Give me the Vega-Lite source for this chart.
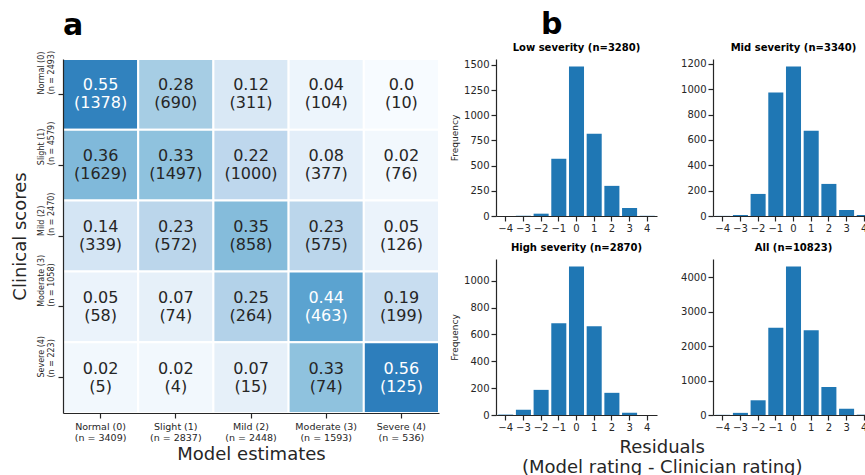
{
  "$schema": "https://vega.github.io/schema/vega-lite/v6.json",
  "background": "white",
  "padding": {"left": 10, "top": 9, "right": 0, "bottom": 0},
  "spacing": 10,
  "config": {
    "font": "DejaVu Sans",
    "view": {"stroke": null},
    "axis": {
      "grid": false,
      "domainColor": "#262626",
      "tickColor": "#262626",
      "labelColor": "#262626",
      "titleColor": "#262626",
      "labelFont": "DejaVu Sans",
      "titleFont": "DejaVu Sans",
      "titleFontWeight": "normal",
      "domainWidth": 1.2,
      "tickWidth": 1.2,
      "tickSize": 5
    },
    "title": {"font": "DejaVu Sans", "color": "black"}
  },
  "datasets": {
    "cm": [
      {"clinical": "Normal (0)", "model": "Normal (0)", "p": 0.55, "v": "0.55", "c": "(1378)"},
      {"clinical": "Normal (0)", "model": "Slight (1)", "p": 0.28, "v": "0.28", "c": "(690)"},
      {"clinical": "Normal (0)", "model": "Mild (2)", "p": 0.12, "v": "0.12", "c": "(311)"},
      {"clinical": "Normal (0)", "model": "Moderate (3)", "p": 0.04, "v": "0.04", "c": "(104)"},
      {"clinical": "Normal (0)", "model": "Severe (4)", "p": 0.0, "v": "0.0", "c": "(10)"},
      {"clinical": "Slight (1)", "model": "Normal (0)", "p": 0.36, "v": "0.36", "c": "(1629)"},
      {"clinical": "Slight (1)", "model": "Slight (1)", "p": 0.33, "v": "0.33", "c": "(1497)"},
      {"clinical": "Slight (1)", "model": "Mild (2)", "p": 0.22, "v": "0.22", "c": "(1000)"},
      {"clinical": "Slight (1)", "model": "Moderate (3)", "p": 0.08, "v": "0.08", "c": "(377)"},
      {"clinical": "Slight (1)", "model": "Severe (4)", "p": 0.02, "v": "0.02", "c": "(76)"},
      {"clinical": "Mild (2)", "model": "Normal (0)", "p": 0.14, "v": "0.14", "c": "(339)"},
      {"clinical": "Mild (2)", "model": "Slight (1)", "p": 0.23, "v": "0.23", "c": "(572)"},
      {"clinical": "Mild (2)", "model": "Mild (2)", "p": 0.35, "v": "0.35", "c": "(858)"},
      {"clinical": "Mild (2)", "model": "Moderate (3)", "p": 0.23, "v": "0.23", "c": "(575)"},
      {"clinical": "Mild (2)", "model": "Severe (4)", "p": 0.05, "v": "0.05", "c": "(126)"},
      {"clinical": "Moderate (3)", "model": "Normal (0)", "p": 0.05, "v": "0.05", "c": "(58)"},
      {"clinical": "Moderate (3)", "model": "Slight (1)", "p": 0.07, "v": "0.07", "c": "(74)"},
      {"clinical": "Moderate (3)", "model": "Mild (2)", "p": 0.25, "v": "0.25", "c": "(264)"},
      {"clinical": "Moderate (3)", "model": "Moderate (3)", "p": 0.44, "v": "0.44", "c": "(463)"},
      {"clinical": "Moderate (3)", "model": "Severe (4)", "p": 0.19, "v": "0.19", "c": "(199)"},
      {"clinical": "Severe (4)", "model": "Normal (0)", "p": 0.02, "v": "0.02", "c": "(5)"},
      {"clinical": "Severe (4)", "model": "Slight (1)", "p": 0.02, "v": "0.02", "c": "(4)"},
      {"clinical": "Severe (4)", "model": "Mild (2)", "p": 0.07, "v": "0.07", "c": "(15)"},
      {"clinical": "Severe (4)", "model": "Moderate (3)", "p": 0.33, "v": "0.33", "c": "(74)"},
      {"clinical": "Severe (4)", "model": "Severe (4)", "p": 0.56, "v": "0.56", "c": "(125)"}
    ],
    "hist": [
      {"g": "low", "r": -4, "n": 0}, {"g": "low", "r": -3, "n": 2}, {"g": "low", "r": -2, "n": 23}, {"g": "low", "r": -1, "n": 568}, {"g": "low", "r": 0, "n": 1484}, {"g": "low", "r": 1, "n": 817}, {"g": "low", "r": 2, "n": 299}, {"g": "low", "r": 3, "n": 80}, {"g": "low", "r": 4, "n": 2},
      {"g": "mid", "r": -4, "n": 1}, {"g": "mid", "r": -3, "n": 8}, {"g": "mid", "r": -2, "n": 174}, {"g": "mid", "r": -1, "n": 974}, {"g": "mid", "r": 0, "n": 1179}, {"g": "mid", "r": 1, "n": 673}, {"g": "mid", "r": 2, "n": 253}, {"g": "mid", "r": 3, "n": 47}, {"g": "mid", "r": 4, "n": 8},
      {"g": "high", "r": -4, "n": 3}, {"g": "high", "r": -3, "n": 39}, {"g": "high", "r": -2, "n": 187}, {"g": "high", "r": -1, "n": 682}, {"g": "high", "r": 0, "n": 1106}, {"g": "high", "r": 1, "n": 660}, {"g": "high", "r": 2, "n": 165}, {"g": "high", "r": 3, "n": 17}, {"g": "high", "r": 4, "n": 0},
      {"g": "all", "r": -4, "n": 5}, {"g": "all", "r": -3, "n": 62}, {"g": "all", "r": -2, "n": 428}, {"g": "all", "r": -1, "n": 2539}, {"g": "all", "r": 0, "n": 4321}, {"g": "all", "r": 1, "n": 2464}, {"g": "all", "r": 2, "n": 814}, {"g": "all", "r": 3, "n": 180}, {"g": "all", "r": 4, "n": 10}
    ]
  },
  "hconcat": [
    {
      "title": {"text": "a", "fontSize": 30, "fontWeight": "bold", "anchor": "start", "frame": "group", "offset": 9},
      "width": 376,
      "height": 354,
      "data": {"name": "cm"},
      "encoding": {
        "x": {
          "field": "model", "type": "nominal",
          "scale": {"domain": ["Normal (0)", "Slight (1)", "Mild (2)", "Moderate (3)", "Severe (4)"], "paddingInner": 0, "paddingOuter": 0},
          "axis": {
            "title": "Model estimates", "titleFontSize": 18, "titlePadding": 4,
            "labelAngle": 0, "labelFontSize": 9.5, "labelPadding": 3, "labelLineHeight": 11,
            "labelExpr": "[datum.label, datum.label == 'Normal (0)' ? '(n = 3409)' : datum.label == 'Slight (1)' ? '(n = 2837)' : datum.label == 'Mild (2)' ? '(n = 2448)' : datum.label == 'Moderate (3)' ? '(n = 1593)' : '(n = 536)']"
          }
        },
        "y": {
          "field": "clinical", "type": "nominal",
          "scale": {"domain": ["Normal (0)", "Slight (1)", "Mild (2)", "Moderate (3)", "Severe (4)"], "paddingInner": 0, "paddingOuter": 0},
          "axis": {
            "title": "Clinical scores", "titleFontSize": 18, "titlePadding": 8,
            "labelAngle": -90, "labelAlign": "left", "labelBaseline": "bottom", "labelFontSize": 8, "labelPadding": 13, "labelLineHeight": 10,
            "labelExpr": "[datum.label, datum.label == 'Normal (0)' ? '(n = 2493)' : datum.label == 'Slight (1)' ? '(n = 4579)' : datum.label == 'Mild (2)' ? '(n = 2470)' : datum.label == 'Moderate (3)' ? '(n = 1058)' : '(n = 223)']"
          }
        }
      },
      "layer": [
        {
          "mark": {"type": "rect", "stroke": "white", "strokeWidth": 2},
          "encoding": {"color": {"field": "p", "type": "quantitative", "scale": {"domain": [0, 0.1, 0.2, 0.3, 0.4, 0.5, 0.6, 0.7, 0.8], "range": ["#f7fbff", "#deebf7", "#c6dbef", "#9ecae1", "#6baed6", "#4292c6", "#2171b5", "#08519c", "#08306b"]}, "legend": null}}
        },
        {
          "mark": {"type": "text", "dy": -9, "fontSize": 16, "font": "DejaVu Sans"},
          "encoding": {"text": {"field": "v"}, "color": {"condition": {"test": "datum.p > 0.4", "value": "white"}, "value": "#262626"}}
        },
        {
          "mark": {"type": "text", "dy": 9, "fontSize": 16, "font": "DejaVu Sans"},
          "encoding": {"text": {"field": "c"}, "color": {"condition": {"test": "datum.p > 0.4", "value": "white"}, "value": "#262626"}}
        }
      ]
    },
    {
      "title": {"text": "b", "fontSize": 30, "fontWeight": "bold", "anchor": "start", "frame": "group", "offset": 3, "dx": 45},
      "vconcat": [
        {
          "title": {"text": ["Residuals", "(Model rating - Clinician rating)"], "orient": "bottom", "fontSize": 18, "fontWeight": "normal", "anchor": "middle", "offset": 7, "lineHeight": 20, "color": "#262626"},
          "spacing": 10,
          "vconcat": [
            {
              "spacing": 23,
              "hconcat": [
                {
                  "title": {"text": "Low severity (n=3280)", "fontSize": 10, "fontWeight": "bold", "offset": 6},
                  "width": 161, "height": 157,
                  "data": {"name": "hist"},
                  "transform": [{"filter": "datum.g == 'low'"}],
                  "mark": {"type": "bar", "color": "#1f77b4"},
                  "encoding": {
                    "x": {"field": "r", "type": "ordinal", "scale": {"domain": [-4, -3, -2, -1, 0, 1, 2, 3, 4], "paddingInner": 0.15, "paddingOuter": 0.125}, "axis": {"title": null, "labelAngle": 0, "labelFontSize": 10, "labelExpr": "replace(datum.label, '-', '\u2212')"}},
                    "y": {"field": "n", "type": "quantitative", "scale": {"domain": [0, 1558], "nice": false}, "axis": {"title": "Frequency", "titleFontSize": 9, "titlePadding": 4, "labelFontSize": 10, "format": "d", "values": [0, 250, 500, 750, 1000, 1250, 1500]}}
                  }
                },
                {
                  "title": {"text": "Mid severity (n=3340)", "fontSize": 10, "fontWeight": "bold", "offset": 6},
                  "width": 161, "height": 157,
                  "data": {"name": "hist"},
                  "transform": [{"filter": "datum.g == 'mid'"}],
                  "mark": {"type": "bar", "color": "#1f77b4"},
                  "encoding": {
                    "x": {"field": "r", "type": "ordinal", "scale": {"domain": [-4, -3, -2, -1, 0, 1, 2, 3, 4], "paddingInner": 0.15, "paddingOuter": 0.125}, "axis": {"title": null, "labelAngle": 0, "labelFontSize": 10, "labelExpr": "replace(datum.label, '-', '\u2212')"}},
                    "y": {"field": "n", "type": "quantitative", "scale": {"domain": [0, 1238], "nice": false}, "axis": {"title": null, "labelFontSize": 10, "format": "d", "values": [0, 200, 400, 600, 800, 1000, 1200]}}
                  }
                }
              ]
            },
            {
              "spacing": 23,
              "hconcat": [
                {
                  "title": {"text": "High severity (n=2870)", "fontSize": 10, "fontWeight": "bold", "offset": 6},
                  "width": 161, "height": 156,
                  "data": {"name": "hist"},
                  "transform": [{"filter": "datum.g == 'high'"}],
                  "mark": {"type": "bar", "color": "#1f77b4"},
                  "encoding": {
                    "x": {"field": "r", "type": "ordinal", "scale": {"domain": [-4, -3, -2, -1, 0, 1, 2, 3, 4], "paddingInner": 0.15, "paddingOuter": 0.125}, "axis": {"title": null, "labelAngle": 0, "labelFontSize": 10, "labelExpr": "replace(datum.label, '-', '\u2212')"}},
                    "y": {"field": "n", "type": "quantitative", "scale": {"domain": [0, 1161], "nice": false}, "axis": {"title": "Frequency", "titleFontSize": 9, "titlePadding": 4, "labelFontSize": 10, "format": "d", "values": [0, 200, 400, 600, 800, 1000]}}
                  }
                },
                {
                  "title": {"text": "All (n=10823)", "fontSize": 10, "fontWeight": "bold", "offset": 6},
                  "width": 161, "height": 156,
                  "data": {"name": "hist"},
                  "transform": [{"filter": "datum.g == 'all'"}],
                  "mark": {"type": "bar", "color": "#1f77b4"},
                  "encoding": {
                    "x": {"field": "r", "type": "ordinal", "scale": {"domain": [-4, -3, -2, -1, 0, 1, 2, 3, 4], "paddingInner": 0.15, "paddingOuter": 0.125}, "axis": {"title": null, "labelAngle": 0, "labelFontSize": 10, "labelExpr": "replace(datum.label, '-', '\u2212')"}},
                    "y": {"field": "n", "type": "quantitative", "scale": {"domain": [0, 4537], "nice": false}, "axis": {"title": null, "labelFontSize": 10, "format": "d", "values": [0, 1000, 2000, 3000, 4000]}}
                  }
                }
              ]
            }
          ]
        }
      ]
    }
  ]
}
